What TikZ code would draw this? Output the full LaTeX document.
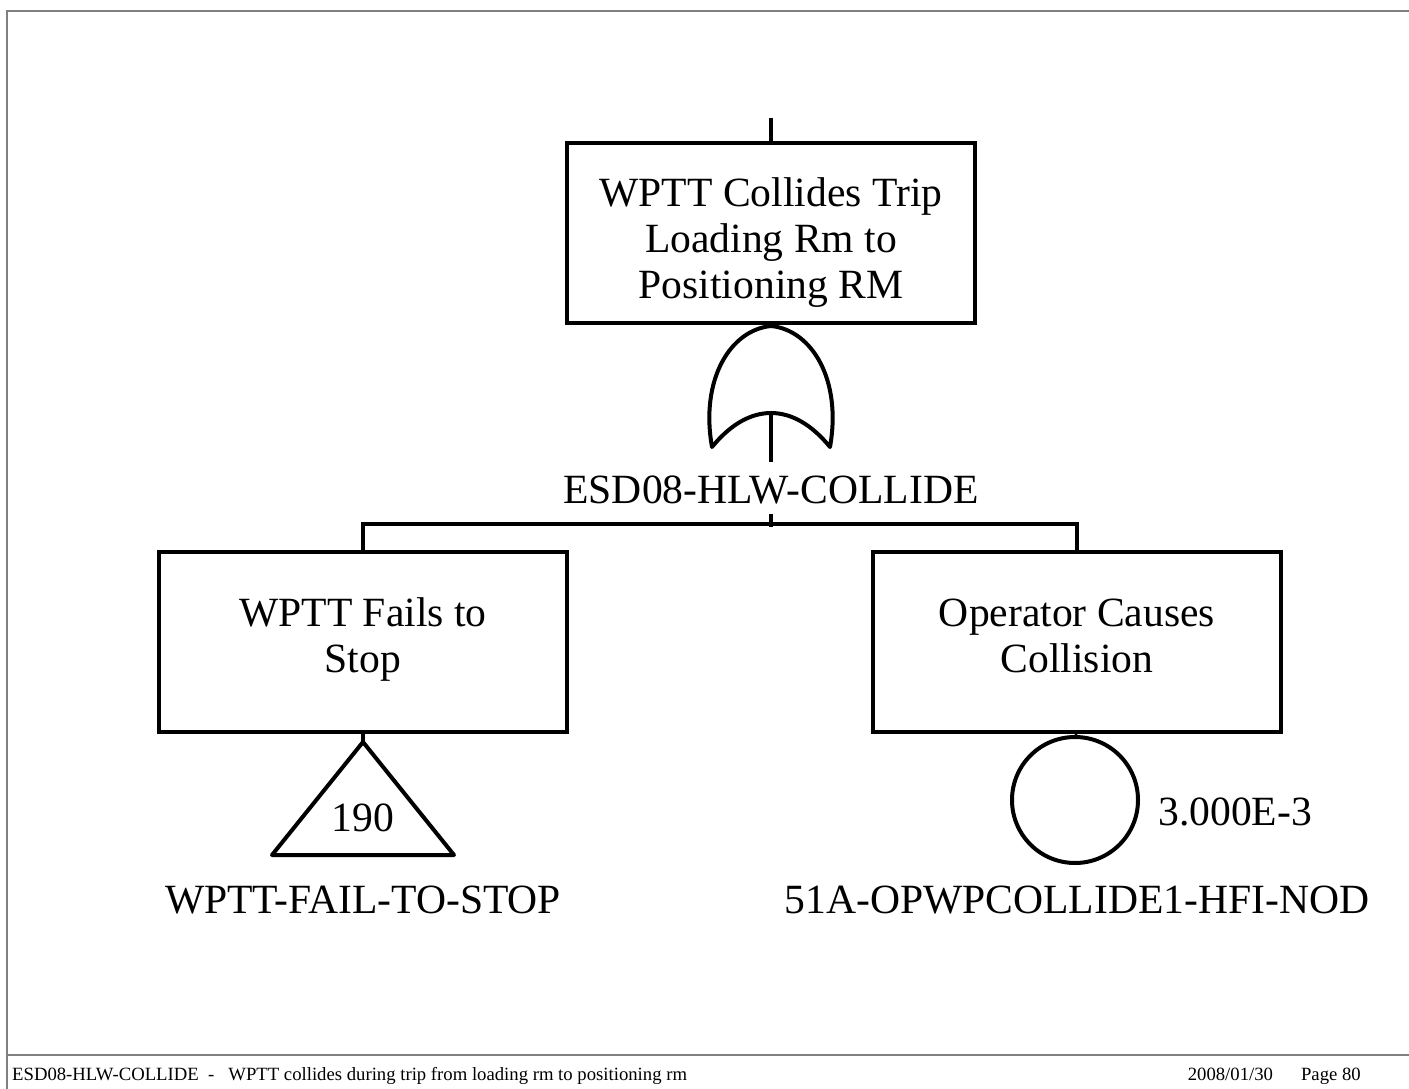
\documentclass[tikz,border=0pt]{standalone}
\usepackage{fontspec}
\setmainfont{Liberation Serif}
\begin{document}
\begin{tikzpicture}[x=1pt,y=-1pt,
  big/.style={font=\fontsize{41.6}{46}\selectfont},
  small/.style={font=\fontsize{18.7}{21}\selectfont},
  evbox/.style={draw,line width=4pt,minimum width=408pt,minimum height=180pt,inner sep=0pt},
  evtext/.style={align=center,inner sep=0pt,big},
  ln/.style={line width=4pt},
  frame/.style={draw=black!50,line width=2pt}]
\useasboundingbox (0,0) rectangle (1409,1089);
% page frame
\draw[frame] (1409,11) -- (7,11) -- (7,1089);
\draw[frame] (7,1055) -- (1409,1055);
% top event
\coordinate (topin) at (771,118);
\node[evbox] (top) at (771,233) {};
\node[evtext] (toptext) at (771,243) {WPTT Collides Trip\\Loading Rm to\\Positioning RM};
\draw[ln] (topin) -- (top.north);
% OR gate
\coordinate (gtop) at (771,326);
\coordinate (gbot) at (771,413);
\draw[ln,line join=round] (712,447) .. controls (700,380) and (730,330) .. (gtop)
  .. controls (812,330) and (842,380) .. (830,447)
  .. controls (812,425) and (792,413) .. (gbot)
  .. controls (750,413) and (730,425) .. (712,447) -- cycle;
\node[big,inner sep=0pt] (glabel) at (771,490) {ESD08-HLW-COLLIDE};
\coordinate (stem1) at (771,462);
\coordinate (stem2) at (771,514);
\coordinate (bus) at (771,527);
\draw[ln] (gbot) -- (stem1);
\draw[ln] (stem2) -- (bus);
% children
\node[evbox] (left) at (363,642) {};
\node[evtext,anchor=base] (lefttext) at (363,672) {WPTT Fails to\\Stop};
\node[evbox] (right) at (1077,642) {};
\node[evtext,anchor=base] (righttext) at (1077,672) {Operator Causes\\Collision};
\draw[ln] (left.north) -- ++(0,-26) -| (right.north);
% transfer triangle
\coordinate (tapex) at (363,742);
\draw[ln] (left.south) -- (tapex);
\draw[ln,line join=round] (tapex) -- (454,855) -- (272,855) -- cycle;
\node[big,inner sep=0pt] (t190) at (363,818) {190};
\node[big,inner sep=0pt] (tname) at (363,900) {WPTT-FAIL-TO-STOP};
% basic event
\node[draw,circle,line width=4pt,minimum size=126pt,inner sep=0pt] (be) at (1075,800) {};
\draw[ln] (right.south) -- (be.north);
\node[big,inner sep=0pt,anchor=west] (prob) at (1158,812) {3.000E-3};
\node[big,inner sep=0pt] (bname) at (1077,900) {51A-OPWPCOLLIDE1-HFI-NOD};
% footer
\node[small,anchor=base west,inner sep=0pt] (foot1) at (12,1080) {ESD08-HLW-COLLIDE\ \ -\ \ \ WPTT collides during trip from loading rm to positioning rm};
\node[small,anchor=base east,inner sep=0pt] (foot2) at (1361,1080) {2008/01/30\ \ \ \ \ \ Page 80};
\end{tikzpicture}
\end{document}
